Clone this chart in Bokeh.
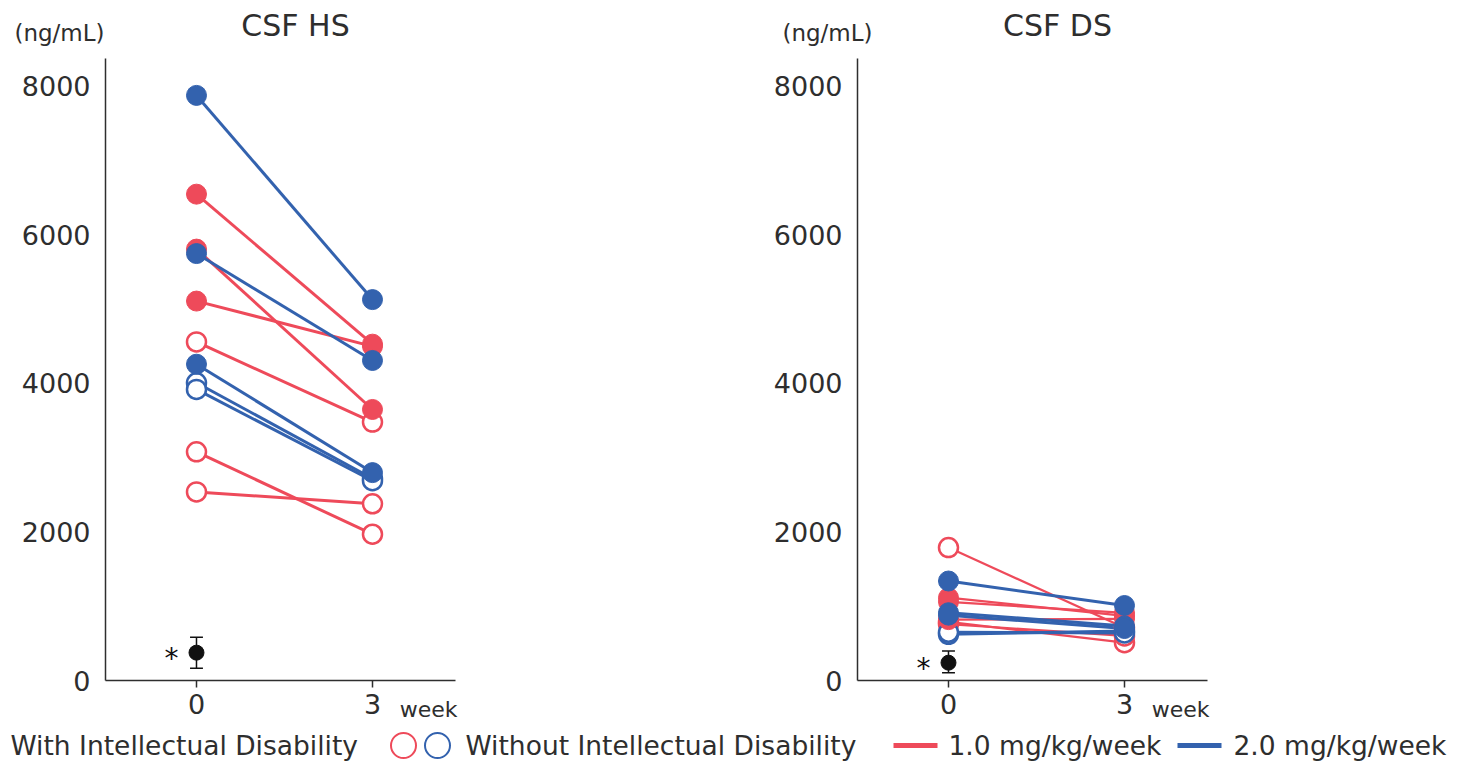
from bokeh.plotting import figure
from bokeh.layouts import column, row
from bokeh.models import Range1d, FixedTicker, Title
from bokeh.core.properties import value
from bokeh.embed import file_html
from bokeh.resources import INLINE

FONT = "DejaVu Sans"
RED = "#EE4A5A"
BLUE = "#3362AE"
TXT = "#2e2e2e"

weeks = [0, 3]
x_ticks = [0, 3]
y_ticks = [0, 2000, 4000, 6000, 8000]
panel_titles = ["CSF HS", "CSF DS"]
unit_label = "(ng/mL)"
x_unit = "week"
legend_texts = ["With Intellectual Disability", "Without Intellectual Disability",
                "1.0 mg/kg/week", "2.0 mg/kg/week"]

# CSF HS (ng/mL): [week0, week3] per patient
hs_red_filled = [[6550, 4530], [5810, 3650], [5110, 4500]]
hs_red_open = [[4560, 3480], [3080, 1970], [2540, 2380]]
hs_blue_filled = [[7880, 5130], [5750, 4310], [4260, 2800]]
hs_blue_open = [[4010, 2720], [3920, 2690]]
hs_mean = 375
hs_err = [166, 583]

# CSF DS (ng/mL)
ds_red_filled = [[1115, 870], [1060, 910], [820, 830]]
ds_red_open = [[1790, 711], [790, 509], [760, 600]]
ds_blue_filled = [[1340, 1010], [913, 734], [880, 700]]
ds_blue_open = [[622, 667], [650, 640]]
ds_mean = 240
ds_err = [105, 397]

X0, X1 = -1.551, 4.415
Y0, Y1 = 0, 8377


def panel(red_f, red_o, blue_f, blue_o, mean, err, width, red_w, blue_w):
    p = figure(width=width, height=680, x_range=Range1d(X0, X1), y_range=Range1d(Y0, Y1),
               output_backend="svg", toolbar_location=None,
               min_border_left=105, min_border_right=width - 105 - 350,
               min_border_top=8, min_border_bottom=50)
    p.outline_line_color = None
    p.grid.grid_line_color = None
    for ax in (p.xaxis, p.yaxis):
        ax.axis_line_color = TXT
        ax.axis_line_width = 1.5
        ax.major_label_text_font = FONT
        ax.major_label_text_font_size = "27px"
        ax.major_label_text_color = TXT
        ax.minor_tick_line_color = None
    p.xaxis.ticker = FixedTicker(ticks=x_ticks)
    p.yaxis.ticker = FixedTicker(ticks=y_ticks)
    p.yaxis.major_tick_line_color = None
    p.yaxis.major_label_standoff = 9
    p.xaxis.major_tick_line_color = TXT
    p.xaxis.major_tick_line_width = 1.5
    p.xaxis.major_tick_out = 7
    p.xaxis.major_tick_in = 0
    p.xaxis.major_label_standoff = 6

    groups = [(red_f, RED, True, red_w), (red_o, RED, False, red_w),
              (blue_f, BLUE, True, blue_w), (blue_o, BLUE, False, blue_w)]
    for vals, col, filled, lw in groups:
        p.multi_line(xs=[weeks] * len(vals), ys=vals, line_color=col, line_width=lw)
    for vals, col, filled, lw in [groups[1], groups[3], groups[0], groups[2]]:
        xs = [w for v in vals for w in weeks]
        ys = [y for v in vals for y in v]
        if filled:
            p.scatter(xs, ys, size=20, fill_color=col, line_color=col, line_width=1)
        else:
            p.scatter(xs, ys, size=19, fill_color="white", line_color=col, line_width=2.5)

    # mean +/- error
    p.segment(x0=[0], y0=[err[0]], x1=[0], y1=[err[1]], line_color="#111111", line_width=1.5)
    p.segment(x0=[-0.11, -0.11], y0=err, x1=[0.11, 0.11], y1=err, line_color="#111111",
              line_width=1.5)
    p.scatter([0], [mean], size=15, fill_color="#111111", line_color="#111111")
    p.text([0], [mean], text=["*"], x_offset=-25, y_offset=6, text_align="center",
           text_baseline="middle", text_font=value(FONT), text_font_size="28px",
           text_color="#111111")

    p.add_layout(Title(text=x_unit, align="right", offset=-2, standoff=-40,
                       vertical_align="top", text_font=FONT, text_font_size="22px",
                       text_font_style="normal", text_color=TXT), "below")
    return p


p1 = panel(hs_red_filled, hs_red_open, hs_blue_filled, hs_blue_open,
           hs_mean, hs_err, 752, 3, 3)
p2 = panel(ds_red_filled, ds_red_open, ds_blue_filled, ds_blue_open,
           ds_mean, ds_err, 724, 2.2, 3)

# title strip (page pixel coordinates)
top = figure(width=1476, height=50, x_range=Range1d(0, 1476), y_range=Range1d(50, 0),
             output_backend="svg", toolbar_location=None,
             x_axis_location=None, y_axis_location=None, min_border=0)
top.outline_line_color = None
top.grid.grid_line_color = None
top.text([295, 1057], [25, 25], text=panel_titles, text_font=value(FONT),
         text_font_size="30px", text_color=TXT, text_align="center", text_baseline="middle")
top.text([59, 827], [32, 32], text=[unit_label, unit_label], text_font=value(FONT),
         text_font_size="23px", text_color=TXT, text_align="center", text_baseline="middle")

# legend strip (page pixel coordinates, y measured from top of strip)
leg = figure(width=1476, height=33, x_range=Range1d(0, 1476), y_range=Range1d(33, 0),
             output_backend="svg", toolbar_location=None,
             x_axis_location=None, y_axis_location=None, min_border=0)
leg.outline_line_color = None
leg.grid.grid_line_color = None
leg.text([10, 465, 948, 1233], [15] * 4, text=legend_texts, text_font=value(FONT),
         text_font_size="26.5px", text_color=TXT, text_baseline="middle", text_align="left")
leg.scatter([403, 437], [15, 15], size=25, fill_color="white",
            line_color=[RED, BLUE], line_width=2)
leg.segment(x0=[893, 1177], y0=[15, 15], x1=[937, 1221], y1=[15, 15],
            line_color=[RED, BLUE], line_width=5)

layout = column(top, row(p1, p2), leg)
open("out.html", "w").write(file_html(layout, INLINE))
